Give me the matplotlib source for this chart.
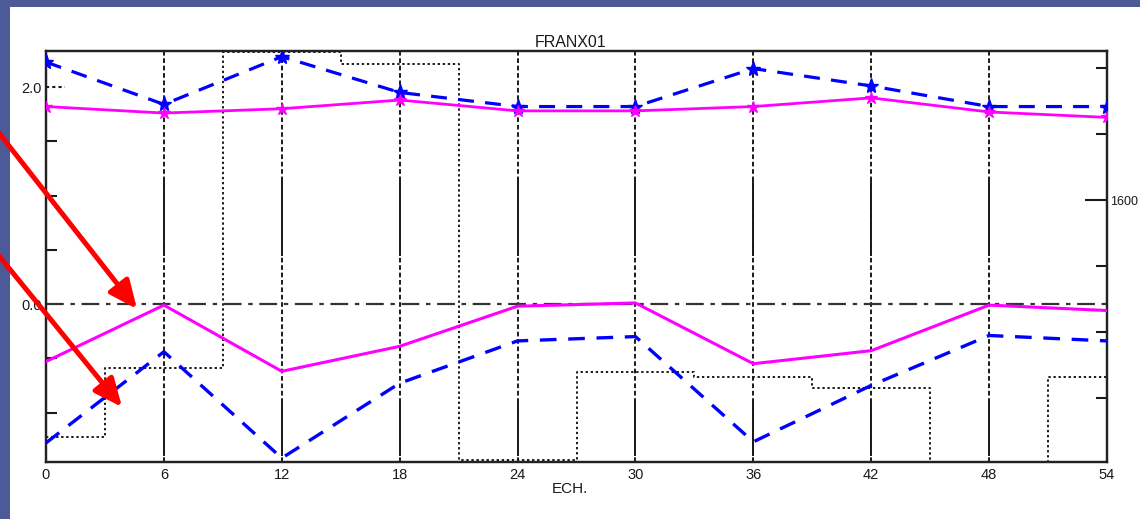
import matplotlib
matplotlib.use('Agg')
import matplotlib.pyplot as plt
from matplotlib.patches import Rectangle, FancyArrowPatch

plt.rcParams['font.family'] = ['Liberation Sans', 'DejaVu Sans']

# ---- data ----
hours = [0, 6, 12, 18, 24, 30, 36, 42, 48, 54]
blue_upper = [2.23, 1.84, 2.28, 1.95, 1.82, 1.82, 2.17, 2.01, 1.82, 1.82]
magenta_upper = [1.82, 1.76, 1.80, 1.88, 1.78, 1.78, 1.82, 1.90, 1.77, 1.72]
magenta_lower = [-0.53, -0.01, -0.62, -0.39, -0.02, 0.01, -0.55, -0.43, -0.01, -0.06]
blue_lower = [-1.28, -0.44, -1.42, -0.73, -0.34, -0.30, -1.27, -0.75, -0.29, -0.34]
step_hours = [0, 3, 9, 15, 21, 27, 33, 39, 45, 51, 54]
step_values = [1241, 1345, 1824, 1806, 1206, 1339, 1332, 1315, 1150, 1332, 1332]
x_ticks = [0, 6, 12, 18, 24, 30, 36, 42, 48, 54]
left_ticks = [2.0, 1.5, 1.0, 0.5, 0.0, -0.5, -1.0]
left_labels = ['2.0', '', '', '', '0.0', '', '']
right_major = [1600]
right_major_labels = ['1600']
right_minor = [1300, 1400, 1500, 1700, 1800]

W, H = 1140, 519
fig = plt.figure(figsize=(W / 100, H / 100), dpi=100, facecolor='#4C5A98')
fig.patches.append(Rectangle((10 / W, 0), 1130 / W, 512 / H, transform=fig.transFigure,
                             facecolor='white', edgecolor='none', zorder=-5))

ax = fig.add_axes([46 / W, (H - 462) / H, (1107 - 46) / W, (462 - 51) / H])
ax2 = ax.twinx()
ax.set_zorder(ax2.get_zorder() + 1)
ax.patch.set_visible(False)
ax2.patch.set_visible(False)

ink = '#1a1a1a'

# vertical grid
for x in x_ticks[1:-1]:
    ax.axvline(x, color=ink, lw=1.4, ls=(0, (2.4, 1.4)), zorder=1)
ax.vlines(x_ticks[1:-1], 0.44, 1.16, color=ink, lw=1.4, zorder=1)
ax.vlines(x_ticks[1:-1], -1.40, -0.90, color=ink, lw=1.4, zorder=1)

# zero dash-dot line and 2.0 stub
ax.axhline(0.0, color='#333333', lw=1.6, ls=(0, (8, 3, 2, 3)), zorder=1)
ax.axhline(2.0, xmin=0, xmax=19 / 1061, color=ink, lw=1.5, ls=(0, (1.5, 1.5)), zorder=1)

# series
ax.plot(hours, blue_upper, color='#0000FF', lw=2.3, ls=(0, (5, 3.5)), marker='*', ms=11, zorder=3)
ax.plot(hours, magenta_upper, color='#FF00FF', lw=2.0, marker='*', ms=9, zorder=3)
ax.plot(hours, magenta_lower, color='#FF00FF', lw=2.2, zorder=3)
ax.plot(hours, blue_lower, color='#0000FF', lw=2.4, ls=(0, (5, 3.5)), zorder=3)

ax2.step(step_hours, step_values, where='post', color=ink, lw=1.4, ls=(0, (1.2, 1.4)))

# axes
ax.set_xlim(0, 54)
ax.set_ylim(-1.456, 2.332)
ax.set_xticks(x_ticks)
ax.tick_params(axis='x', length=0, pad=4, labelsize=10.5, labelcolor=ink)
ax.set_yticks(left_ticks, left_labels)
ax.tick_params(axis='y', direction='in', length=8, width=1.5, pad=3, labelsize=10.5,
               labelcolor=ink, color=ink)
for i in (0, 4):
    ax.yaxis.get_major_ticks()[i].tick1line.set_visible(False)

ax2.set_ylim(1203, 1826)
ax2.set_yticks(right_major, right_major_labels)
ax2.set_yticks(right_minor, minor=True)
ax2.tick_params(axis='y', which='major', direction='in', length=16, width=1.5, pad=2,
                labelsize=9, labelcolor=ink, color=ink)
ax2.tick_params(axis='y', which='minor', direction='in', length=8, width=1.5, color=ink)

for a in (ax, ax2):
    for s in a.spines.values():
        s.set_linewidth(1.6)
        s.set_color('#222222')

ax.set_title('FRANX01', fontsize=11.5, pad=3, color=ink, x=(571 - 46) / 1061)
ax.set_xlabel('ECH.', fontsize=11, color=ink)
ax.xaxis.set_label_coords((570 - 46) / 1061, -0.048)


def px(x, y):
    return (x / W, (H - y) / H)


for start, tip in [((-5, 128), (137, 309)), ((-5, 251), (122, 407))]:
    arr = FancyArrowPatch(px(*start), px(*tip), transform=fig.transFigure,
                          arrowstyle='-|>,head_length=0.85,head_width=0.38',
                          mutation_scale=20, color='#FF0000', lw=3.6,
                          shrinkA=0, shrinkB=0, zorder=10)
    fig.patches.append(arr)

fig.savefig('out.png', dpi=100, facecolor=fig.get_facecolor())
